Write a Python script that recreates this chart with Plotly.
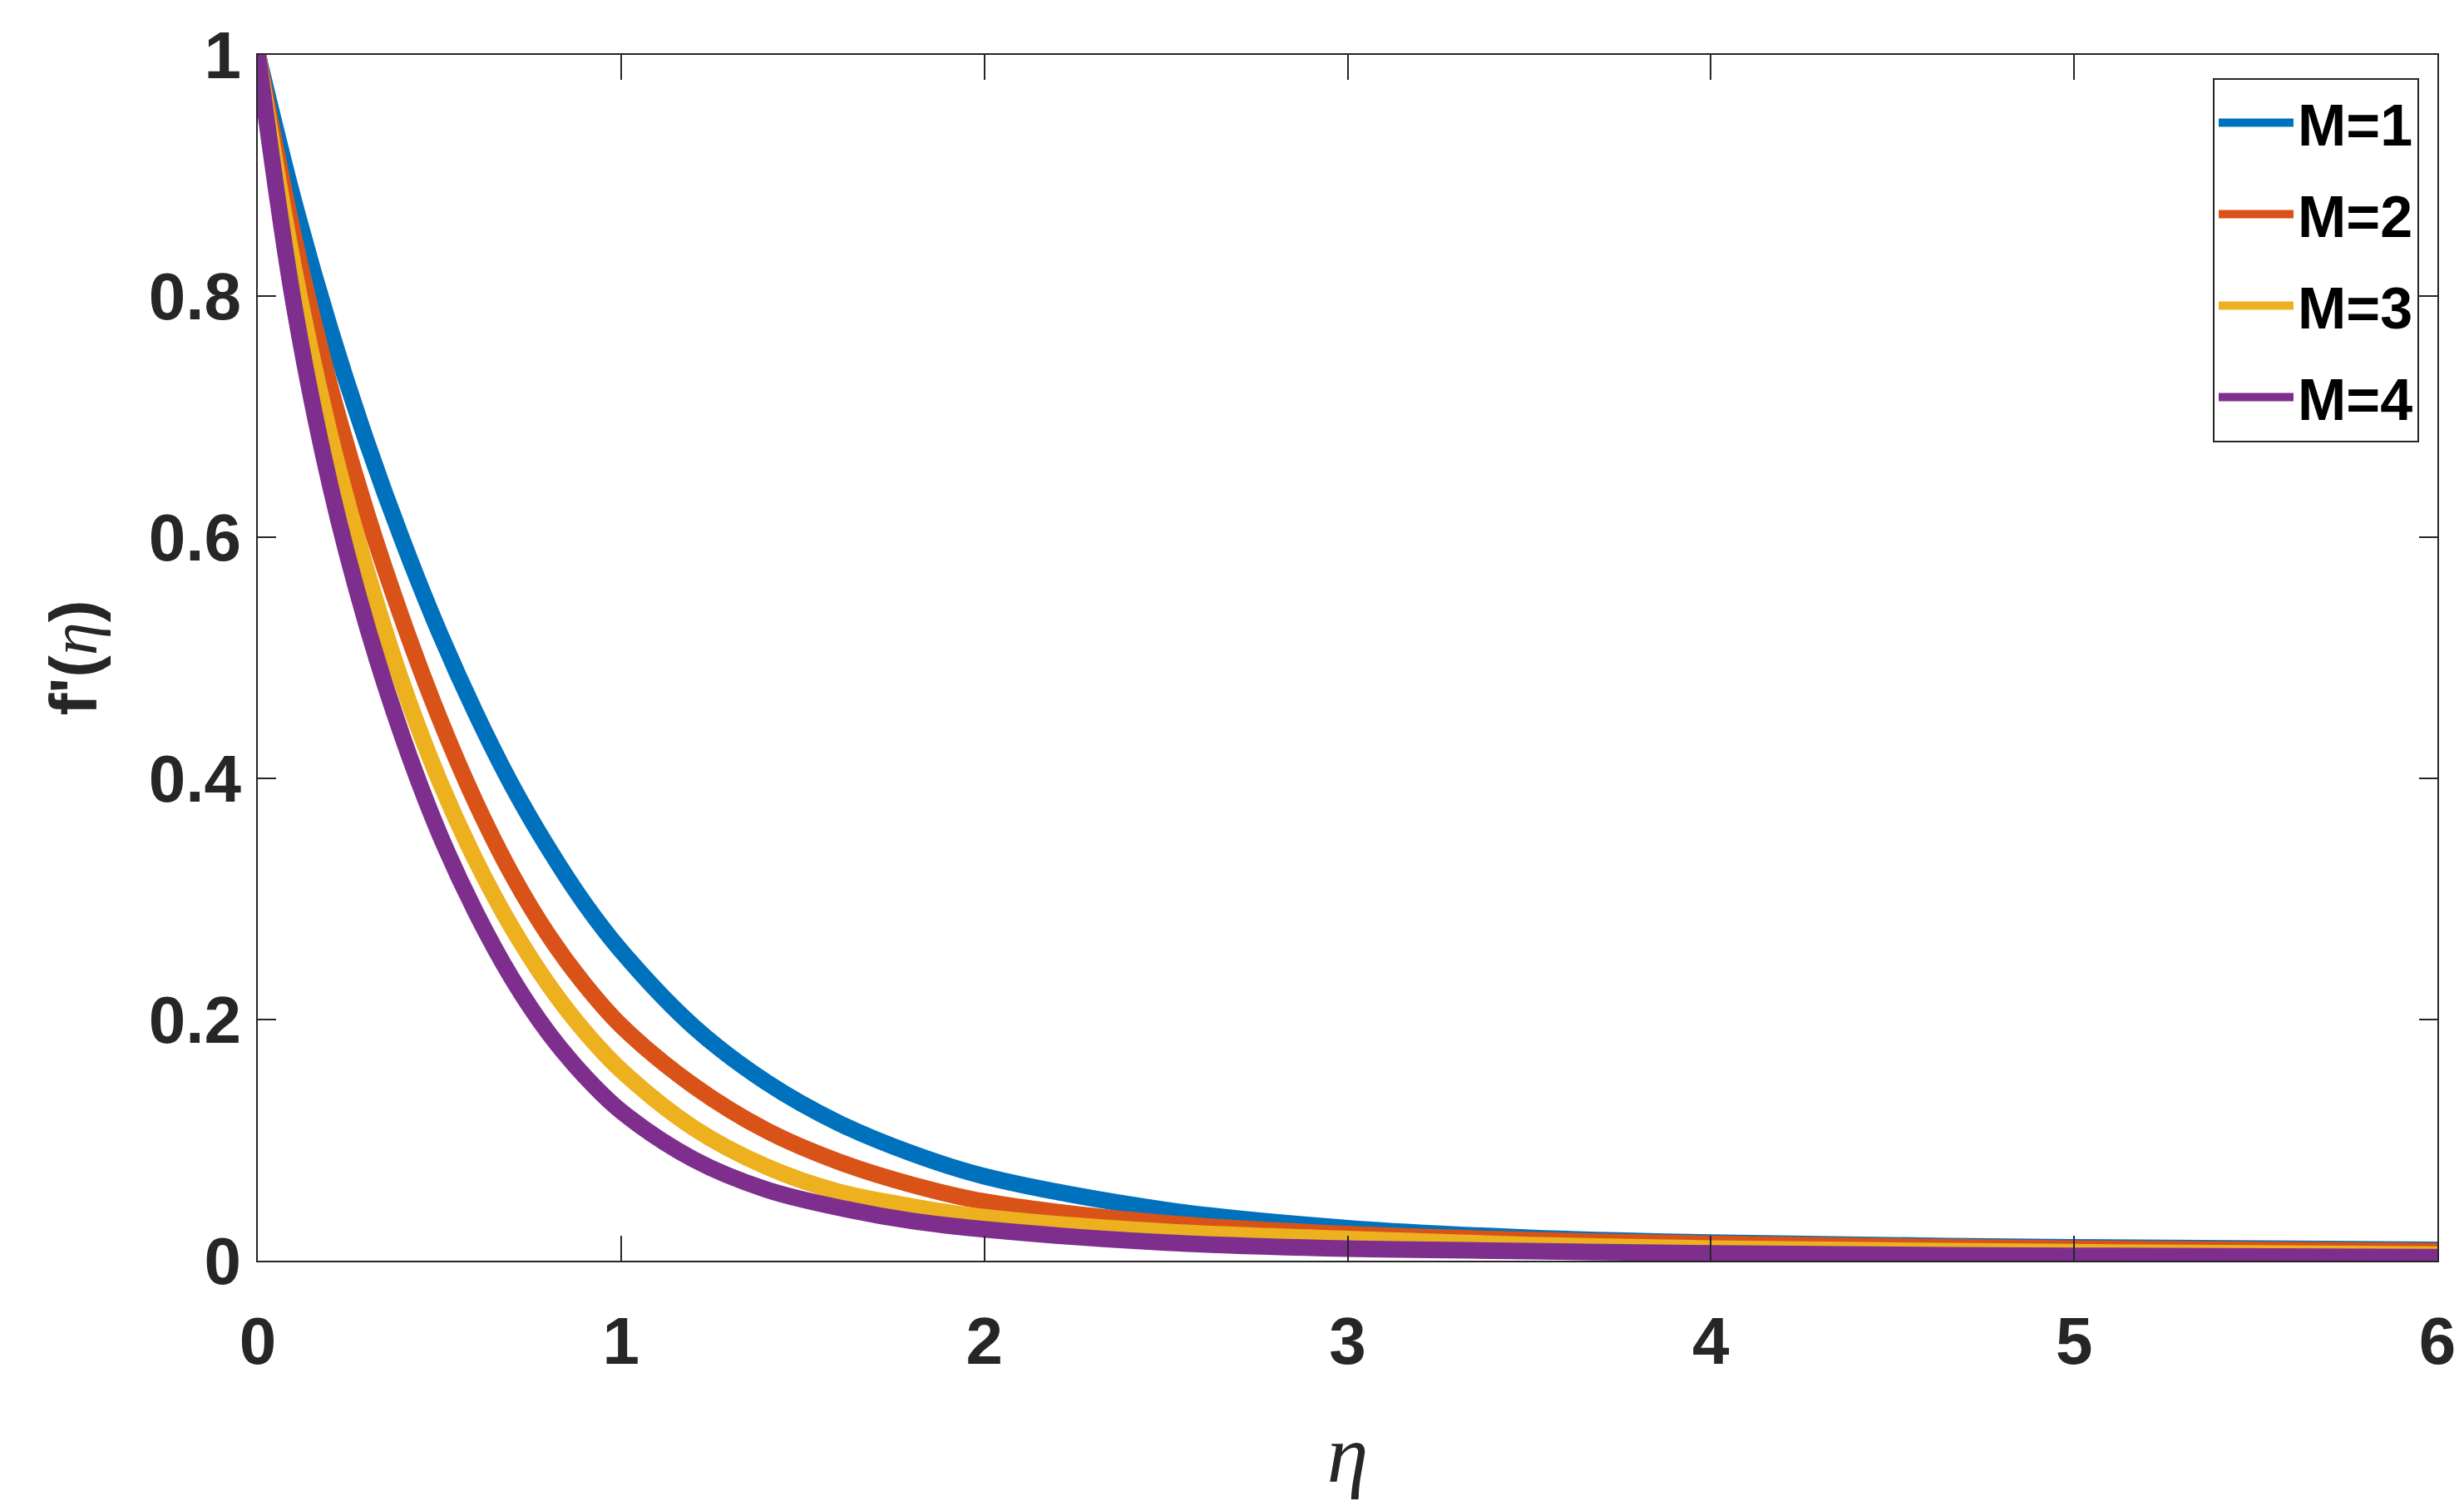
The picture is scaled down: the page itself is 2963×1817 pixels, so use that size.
import plotly.graph_objects as go

eta = [0.0, 0.1, 0.2, 0.3, 0.4, 0.5, 0.6, 0.7, 0.8, 0.9, 1.0, 1.2, 1.4, 1.6, 1.8, 2.0, 2.5, 3.0, 3.5, 4.0, 5.0, 6.0]

m1 = [1.0, 0.878, 0.772, 0.679, 0.596, 0.521, 0.454, 0.394, 0.342, 0.296, 0.257, 0.194, 0.148, 0.114, 0.089, 0.070, 0.042, 0.027, 0.019, 0.015, 0.011, 0.009]
m2 = [1.0, 0.848, 0.724, 0.620, 0.530, 0.450, 0.380, 0.320, 0.270, 0.229, 0.195, 0.145, 0.108, 0.082, 0.063, 0.049, 0.031, 0.022, 0.017, 0.014, 0.010, 0.008]
m3 = [1.0, 0.822, 0.683, 0.572, 0.477, 0.398, 0.332, 0.276, 0.229, 0.190, 0.158, 0.110, 0.078, 0.057, 0.045, 0.036, 0.024, 0.018, 0.013, 0.010, 0.007, 0.005]
m4 = [1.0, 0.792, 0.642, 0.527, 0.433, 0.354, 0.289, 0.234, 0.189, 0.153, 0.124, 0.084, 0.059, 0.044, 0.033, 0.026, 0.015, 0.010, 0.008, 0.006, 0.004, 0.003]

series = [("M=1", m1), ("M=2", m2), ("M=3", m3), ("M=4", m4)]
colors = ["#0072BD", "#D95319", "#EDB120", "#7E2F8E"]

x_ticks = [0, 1, 2, 3, 4, 5, 6]
y_ticks = [0, 0.2, 0.4, 0.6, 0.8, 1]
y_ticktext = ["0", "0.2", "0.4", "0.6", "0.8", "1"]

FONT = "Liberation Sans Narrow, Arial Narrow, Liberation Sans, Arial, sans-serif"
INK = "#262626"

fig = go.Figure()
for (name, vals), c in zip(series, colors):
    fig.add_trace(go.Scatter(x=eta, y=vals, name=name, mode="lines", legendgroup=name,
                             line=dict(color=c, width=20, shape="spline", smoothing=1.0)))

fig.update_layout(
    width=2963, height=1817,
    margin=dict(l=302, r=40, t=58, b=309),
    paper_bgcolor="white", plot_bgcolor="white",
    showlegend=True,
    legend=dict(x=0.9916, y=0.981, xanchor="right", yanchor="top",
                bgcolor="white", bordercolor=INK, borderwidth=2,
                font=dict(family=FONT, size=70, color="black", weight="bold"),
                tracegroupgap=16, itemwidth=90),
)
fig.update_xaxes(range=[0, 6], tickvals=x_ticks, ticktext=[str(v) for v in x_ticks],
                 showgrid=False, zeroline=False, showline=True, linewidth=2, linecolor=INK,
                 mirror="ticks", ticks="inside", ticklen=30, tickwidth=2, tickcolor=INK,
                 tickfont=dict(family=FONT, size=80, color=INK, weight="bold"),
                 ticklabelstandoff=26,
                 title=dict(text="<i>η</i>", standoff=56,
                            font=dict(family="Liberation Serif, Times New Roman, serif", size=100, color=INK)))
fig.update_yaxes(range=[0, 1], tickvals=y_ticks, ticktext=y_ticktext,
                 showgrid=False, zeroline=False, showline=True, linewidth=2, linecolor=INK,
                 mirror="ticks", ticks="inside", ticklen=22, tickwidth=2, tickcolor=INK,
                 tickfont=dict(family=FONT, size=80, color=INK, weight="bold"),
                 ticklabelstandoff=2,
                 title=dict(text="<b>f'(</b><span style='font-family:Liberation Serif;font-style:italic;font-weight:normal'>η</span><b>)</b>",
                            standoff=36,
                            font=dict(family=FONT, size=80, color=INK)))

fig.write_html("out.html")
